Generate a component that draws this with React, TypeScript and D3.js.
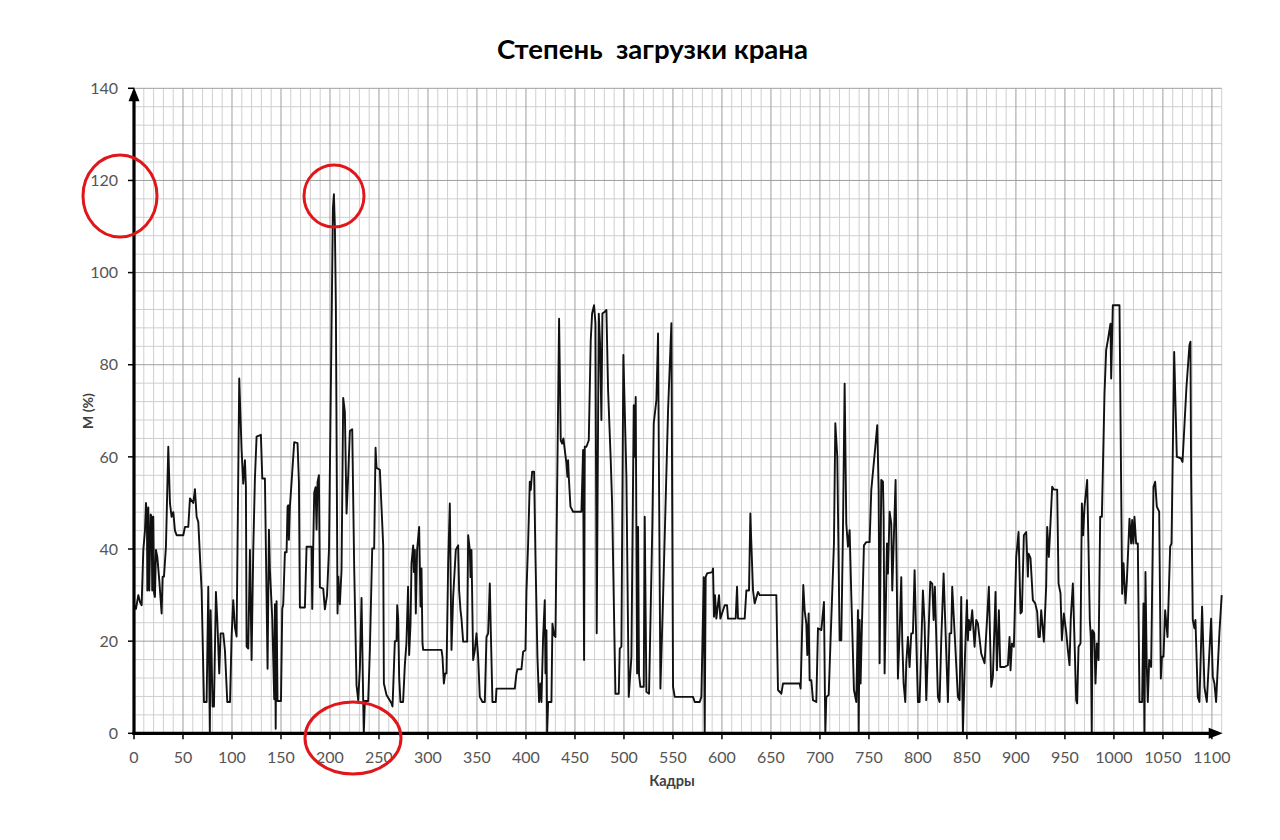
import React from "react";
import * as d3 from "d3";

// Crane load, percent of rated moment, sampled by video frame.
// Each span holds [frame, load %] vertices of the trace.
const load000_125: [number, number][] = [
  [0, 28], [2, 27], [4.4, 30], [6.1, 28.5], [7.8, 27.8], [9.5, 39.8], [11.2, 44], [12.2, 50], [13.2, 47],
  [13.6, 31], [14.6, 49], [15.6, 31], [17, 47.5], [18, 47], [18.6, 31], [19.7, 47], [20.5, 30.4], [21.4, 29.6],
  [22.4, 39.8], [23.8, 38.3], [25.8, 33.2], [28.2, 26], [29.2, 34], [30.6, 34], [32.6, 40.5], [35, 62.2],
  [36.7, 49.9], [38.4, 47], [40.1, 48], [41.8, 44], [43.5, 43], [50.3, 43], [52, 44.8], [55.4, 44.8], [57.1, 51],
  [60.5, 50], [62.2, 53], [63.9, 47], [65.6, 45.9], [69, 31], [71.4, 6.8], [74.1, 6.8], [75.8, 31.8], [77.4, 0],
  [78.2, 26.7], [80.2, 5.8], [81.6, 5.8], [83.6, 30.7], [85, 24.6], [87, 13], [88.4, 21.7], [91.1, 21.7],
  [92.8, 18], [95.2, 6.8], [98, 6.8], [99.6, 21], [101.3, 28.9], [103, 23], [104.7, 21], [107.4, 77],
  [109.8, 61.5], [111.5, 54.2], [113.2, 59.3], [114.2, 53.5], [114.9, 18.8], [116.6, 18.4], [118.3, 39.8],
  [120, 15.9], [121.7, 39.8],
];

const load125_250: [number, number][] = [
  [123.4, 55.3], [125.1, 64.4], [129.5, 64.8], [130.9, 55.3], [133.6, 55.3], [136.3, 14], [137.7, 44.2],
  [138.7, 35.5], [141.1, 24.9], [143.1, 7.4], [143.8, 28], [144.6, 1], [145.5, 28.7], [146.5, 7], [150, 7],
  [151.3, 27], [152.3, 28], [154, 39.3], [155.7, 39.3], [156.7, 49.2], [157.4, 49.5], [158.1, 42], [159.1, 49.2],
  [160.8, 54.5], [163.5, 63.2], [166.9, 63], [168.3, 54.5], [169.3, 27.3], [174.4, 27.3], [176.1, 40.5],
  [181.2, 40.5], [181.9, 27], [182.9, 40.5], [183.9, 52.2], [185.3, 53.4], [186.3, 44.2], [187.3, 54.5],
  [188.7, 56], [189.7, 31.7], [193.1, 31.4], [194.8, 26.9], [197, 30], [199, 40], [203, 114], [204, 117],
  [205, 110], [206, 93], [207.7, 26], [208.5, 34], [210.1, 28], [211.8, 35.5], [213.5, 72.8], [215.2, 69.7],
  [216.9, 47.7], [218.6, 56], [220.3, 65.6], [222.7, 66], [224.7, 36], [227.1, 10.4], [228.8, 7.2], [230.5, 14],
  [232.2, 29.4], [233.9, 7.2], [234.5, 0], [235.6, 7], [239, 7], [240.7, 18], [243.1, 40.1], [245.1, 40.1],
  [246.5, 62], [247.5, 57.6], [250.9, 57.2],
];

const load250_378: [number, number][] = [
  [254.3, 40.8], [255, 10.8], [257.7, 8.3], [262.8, 6.5], [263.8, 5.8], [264.5, 9.7], [266.2, 20], [267.9, 20],
  [268.6, 27.8], [269.6, 25], [270.6, 12.3], [271.9, 6.8], [274.6, 6.8], [276.4, 14.8], [278, 19.5],
  [279.7, 31.8], [280.8, 17], [282.2, 23.8], [283.2, 36.9], [284.9, 40.8], [285.6, 35], [286.6, 39.8],
  [287.6, 26], [288.9, 39.8], [291, 44.8], [292.4, 27.5], [293.4, 35.8], [294.4, 19.5], [295.1, 18.1],
  [313.8, 18.1], [314.8, 16.6], [316.2, 10.8], [317.5, 13], [318.9, 13], [320.6, 36.9], [322.3, 49.9],
  [324, 18.1], [325.7, 29.6], [328.4, 39.8], [330.8, 40.8], [331.8, 31], [333.2, 26.7], [334.2, 24.9],
  [335.9, 19.9], [340, 19.9], [341, 43], [342.7, 39.8], [343.4, 33.9], [344.4, 39.8], [346.1, 15.9], [347.8, 18],
  [349.5, 21.7], [351.2, 16.6], [352.9, 7.9], [355.6, 6.8], [358, 6.8], [359.7, 20.9], [361.4, 21.7],
  [363.1, 32.5], [364.1, 22.4], [365.8, 6.8], [369.2, 6.8], [369.9, 9.7],
];

const load378_506: [number, number][] = [
  [388.6, 9.7], [390.3, 13], [391.3, 13.9], [395.4, 13.9], [397.1, 17.7], [399.5, 18.1], [400.5, 30.7],
  [402.2, 41.2], [403.9, 54.6], [404.9, 52.8], [406.3, 56.8], [408.3, 56.8], [409.7, 38.3], [411.7, 16.6],
  [413.4, 6.8], [414.8, 10.8], [415.8, 6.8], [417.5, 20.9], [419.2, 28.9], [419.9, 13], [420.9, 22.4],
  [421.6, 0], [422.6, 6.8], [426, 6.8], [427, 23.8], [428.7, 21.3], [430.1, 20.9], [433.8, 90], [435.5, 63.6],
  [436.9, 62.9], [438.2, 64], [439.6, 61.5], [441.3, 58.6], [442.3, 55.7], [443, 59.3], [443.7, 55.7],
  [445.4, 49.2], [448.1, 48.1], [456.6, 48.1], [458.3, 61.5], [459.3, 15.9], [460, 62.2], [461.7, 62.2],
  [464.1, 63.6], [466.1, 85.3], [467.5, 91.1], [469.5, 92.9], [470.9, 89], [472.2, 21.7], [474.3, 91.1],
  [475.6, 84.6], [477, 68], [478, 91.1], [480.4, 91.5], [482.1, 91.9], [483.8, 74.5], [486.5, 59.3],
  [487.9, 49.9], [491.3, 8.6], [494.7, 8.6], [495.7, 18.4], [497.4, 18.8], [499.4, 82.1], [501.5, 64.4],
  [502.5, 55.7], [504.9, 7.9],
];

const load506_633: [number, number][] = [
  [507.6, 16.6], [510, 71.2], [511, 60], [512, 73], [513.4, 13], [514.4, 44.8], [515.4, 12.6], [516.8, 10.1],
  [520.2, 10.1], [521.2, 47], [522.9, 9], [525.6, 8.6], [529, 45.5], [530.4, 67.3], [533.1, 72.3],
  [534.8, 86.8], [537.2, 9.7], [540, 30], [545, 70], [548.4, 89], [550.1, 10.1], [551.8, 7.9], [570.5, 7.9],
  [572.2, 6.8], [577.3, 6.8], [579, 7.9], [581.4, 33.9], [582.4, 0], [583.4, 33.9], [584.8, 34.7], [590.2, 35],
  [590.9, 35.8], [591.9, 25.3], [592.9, 30], [594.3, 24.9], [597, 30], [598.4, 24.9], [602.8, 27.8],
  [605.2, 27.8], [606.2, 24.9], [614, 24.9], [615.4, 31.8], [616.4, 24.9], [623.2, 24.9], [624.9, 31],
  [627.6, 31], [629, 47.7], [630, 41.2], [631.7, 31],
];

const load633_761: [number, number][] = [
  [633.4, 28.2], [636.8, 30.7], [638.5, 30], [655.5, 30], [657.2, 9.4], [660.6, 8.6], [662.3, 10.8],
  [679.3, 10.8], [680.3, 9.7], [683, 32.2], [684.4, 26.7], [686.1, 23.8], [687.1, 17], [688.5, 26],
  [689.5, 11.5], [691.2, 11.5], [692.9, 7.2], [696.3, 6.8], [698, 22.8], [701.4, 22.4], [704.1, 28.5],
  [705.5, 0], [706.5, 7.9], [708.9, 8.3], [714.3, 41.2], [715.7, 67.3], [717.7, 60], [720.1, 20.2],
  [721.8, 20.2], [723.5, 44.1], [725.2, 75.9], [726.9, 45.5], [728.6, 40.5], [730.3, 44.1], [732, 30],
  [734.7, 9.4], [737.1, 6.8], [738.8, 26.7], [739.5, 0], [740.5, 24.6], [741.5, 10.8], [742.9, 23.8],
  [744.9, 40.8], [747.3, 41.5], [750.7, 41.5], [752.4, 52.8], [756.5, 62.2], [758.5, 66.9], [759.9, 52.8],
  [760.9, 15.2],
];

const load761_888: [number, number][] = [
  [762.6, 55], [764.3, 54.6], [765, 47], [766, 13], [768.4, 41.2], [769.4, 34.7], [771.1, 48.1], [772.8, 45.5],
  [773.8, 31], [777.2, 55], [779.6, 11.9], [781.3, 21.7], [783, 33.9], [784, 20.2], [785.4, 10.8], [787.1, 6.8],
  [788.1, 15.2], [789.8, 20.9], [791.5, 14.4], [793.2, 21.7], [794.9, 21.7], [796.6, 35.4], [798.3, 20.2],
  [800, 6.8], [801.7, 6.8], [805.1, 31], [806.8, 23.8], [808.5, 7.2], [812.6, 32.9], [814.6, 32.5], [816, 24.6],
  [817.3, 31.8], [820.4, 7.9], [822.1, 6.8], [823.8, 20.2], [826.2, 34.7], [830.6, 6.8], [832.3, 21.7],
  [834, 21.7], [835, 31.8], [840.8, 7.9], [842.5, 7.2], [844.2, 29.6], [845.9, 0], [848, 16.6], [850, 28.9],
  [851, 20.2], [852, 24.6], [853.4, 22.4], [855.4, 26.7], [857.8, 18.8], [859.5, 24.6], [861.2, 23.8],
  [864.6, 17.3], [868, 15.2], [872.4, 31.8], [874.8, 10.1], [876.5, 12.3], [879.2, 30.7], [880.6, 13.7],
  [882.6, 26.7], [884, 14.4], [888.4, 14.4],
];

const load888_1006: [number, number][] = [
  [891.8, 14.8], [893.5, 20.9], [894.5, 13.7], [895.9, 19.5], [897.9, 18.8], [900.3, 38.3], [902.7, 43.7],
  [904.7, 26], [906.1, 26.4], [908.1, 43], [910.5, 43.7], [912.2, 34], [912.9, 39], [914.9, 38], [917.3, 28.9],
  [919.7, 28.2], [921.7, 26.4], [923, 20.9], [924.4, 20.9], [925.8, 26.7], [928.5, 19.9], [930.9, 32],
  [931.9, 44.8], [933.6, 38.3], [934.6, 42.5], [937, 53.5], [938.7, 52.9], [942.1, 52.9], [943.5, 32.5],
  [945.5, 30.4], [946.9, 20.2], [948.9, 26], [951.3, 22], [953, 18.1], [954.7, 14.8], [956, 25], [958.1, 32.5],
  [959.8, 20], [961.5, 7.2], [962.5, 6.5], [963.9, 18.8], [965.9, 19.5], [967.3, 49.9], [968.6, 43],
  [970, 49.2], [972.7, 55], [974.1, 40], [975.4, 24.6], [976.4, 20.9], [977.4, 0], [978.1, 22.4],
  [979.9, 21.7], [981.2, 10.8], [982.6, 19.5], [984.3, 15.9], [986, 47], [987.7, 47], [990.4, 73.8],
  [992.1, 83.2], [993.8, 85.3], [996.5, 88.9], [997.2, 77], [998.9, 92.9], [1005.7, 92.9],
];

const load1006_1110: [number, number][] = [
  [1008.4, 30.3], [1009.8, 36.9], [1011.8, 28.2], [1013.2, 33], [1015.9, 46.6], [1017.6, 41.2],
  [1018.6, 46.3], [1019.9, 41.2], [1021, 47], [1022.7, 41.2], [1024.4, 41.2], [1026.1, 6.8], [1028.8, 6.8],
  [1030.2, 28.2], [1031.2, 0], [1032.2, 35], [1033.5, 15], [1034.6, 6.8], [1036, 15.9], [1038, 14.4],
  [1040.4, 53.5], [1042.1, 54.6], [1043.8, 49.2], [1046.2, 48.1], [1047.5, 20], [1047.9, 11.9], [1049, 16.6],
  [1050.6, 16.6], [1052.3, 26.7], [1054.7, 20.9], [1057.4, 40.5], [1058.8, 41.2], [1061.5, 82.8], [1064.2, 60],
  [1068.3, 59.7], [1070, 58.9], [1074, 75], [1077.1, 84.3], [1078.1, 85], [1078.8, 55.7], [1080.5, 24.6],
  [1082.2, 22.8], [1083.2, 24.6], [1085.6, 7.9], [1087.3, 6.8], [1090, 27.5], [1092.4, 10], [1094.8, 6.8],
  [1099.2, 24.9], [1100.9, 12.3], [1102.6, 10.8], [1104.3, 6.8], [1107.7, 22], [1110, 30],
];

const xTicks = d3.range(0, 1101, 50);
const yTicks = d3.range(0, 141, 20);
const xGridStep = 10;
const yGridStep = 4;

const titleText = "Степень  загрузки крана";
const xTitle = "Кадры";
const yTitle = "M (%)";

// Highlight rings drawn over the chart (centre x, centre y, radius x, radius y)
const rings: [number, number, number, number][] = [
  [120, 196, 37, 41],
  [334, 196, 30, 31],
  [353, 738, 48, 36],
];

const FONT = "Lato, 'Open Sans', 'DejaVu Sans', sans-serif";

export default function App() {
  const x = d3.scaleLinear().domain([0, 1110]).range([134, 1221.7]);
  const y = d3.scaleLinear().domain([0, 140]).range([733.3, 88.3]);

  const series = [
    ...load000_125, ...load125_250, ...load250_378, ...load378_506, ...load506_633,
    ...load633_761, ...load761_888, ...load888_1006, ...load1006_1110,
  ];
  const path = d3.line<[number, number]>().x((d) => x(d[0])).y((d) => y(d[1]))(series) || "";

  const xGrid = d3.range(0, 1111, xGridStep);
  const yGrid = d3.range(0, 141, yGridStep);
  const [x0, x1] = x.range();
  const [y0, y1] = y.range();

  return (
    <svg width={1280} height={840} style={{ position: "absolute", left: 0, top: 0, background: "#fff" }}
      fontFamily={FONT}>
      <rect x={0} y={0} width={1280} height={840} fill="#fff" />

      {/* minor grid */}
      <g stroke="#cfcfcf" strokeWidth={1}>
        {xGrid.filter((v) => v % 50 !== 0).map((v) => (
          <line key={"vx" + v} x1={x(v)} x2={x(v)} y1={y0} y2={y1} />
        ))}
        {yGrid.filter((v) => v % 20 !== 0).map((v) => (
          <line key={"hy" + v} x1={x0} x2={x1} y1={y(v)} y2={y(v)} />
        ))}
      </g>
      {/* major grid */}
      <g stroke="#9e9e9e" strokeWidth={1}>
        {xGrid.filter((v) => v % 50 === 0 && v > 0).map((v) => (
          <line key={"Vx" + v} x1={x(v)} x2={x(v)} y1={y0} y2={y1} />
        ))}
        {yGrid.filter((v) => v % 20 === 0 && v > 0).map((v) => (
          <line key={"Hy" + v} x1={x0} x2={x1} y1={y(v)} y2={y(v)} />
        ))}
      </g>

      {/* load trace */}
      <path d={path} fill="none" stroke="#111" strokeWidth={1.9} strokeLinejoin="round" />

      {/* axes with arrowheads */}
      <g stroke="#000" strokeWidth={3.2}>
        <line x1={x0} x2={x0} y1={y0 + 1.5} y2={y1 + 8} />
        <line x1={x0 - 1.5} x2={x1 - 8} y1={y0} y2={y0} />
      </g>
      <polygon points={`${x0},${y1 - 1} ${x0 - 5.5},${y1 + 13} ${x0 + 5.5},${y1 + 13}`} fill="#000" />
      <polygon points={`${x1 + 1},${y0} ${x1 - 13},${y0 - 5.5} ${x1 - 13},${y0 + 5.5}`} fill="#000" />

      {/* ticks */}
      <g stroke="#000" strokeWidth={1.5}>
        {yTicks.map((v) => (
          <line key={"ty" + v} x1={x0 - 6} x2={x0} y1={y(v)} y2={y(v)} />
        ))}
        {xTicks.map((v) => (
          <line key={"tx" + v} x1={x(v)} x2={x(v)} y1={y0} y2={y0 + 6} />
        ))}
      </g>

      {/* tick labels */}
      <g fill="#555" fontSize={16}>
        {yTicks.map((v) => (
          <text key={"ly" + v} x={118} y={y(v)} dy="0.36em" textAnchor="end">{v}</text>
        ))}
        {xTicks.map((v) => (
          <text key={"lx" + v} x={x(v)} y={763} textAnchor="middle">{v}</text>
        ))}
      </g>

      {/* titles */}
      <text x={652.5} y={59} textAnchor="middle" fontSize={26} fontWeight={700} fill="#000"
        textLength={311} lengthAdjust="spacingAndGlyphs" style={{ whiteSpace: "pre" }}>{titleText}</text>
      <text x={672} y={786} textAnchor="middle" fontSize={14.5} fontWeight={700} fill="#404040">{xTitle}</text>
      <text transform="translate(93,411) rotate(-90)" textAnchor="middle" fontSize={14} fontWeight={700}
        fill="#404040">{yTitle}</text>

      {/* highlight rings */}
      <g fill="none" stroke="#e0161b" strokeWidth={3}>
        {rings.map(([cx, cy, rx, ry], i) => (
          <ellipse key={"r" + i} cx={cx} cy={cy} rx={rx} ry={ry} />
        ))}
      </g>
    </svg>
  );
}
